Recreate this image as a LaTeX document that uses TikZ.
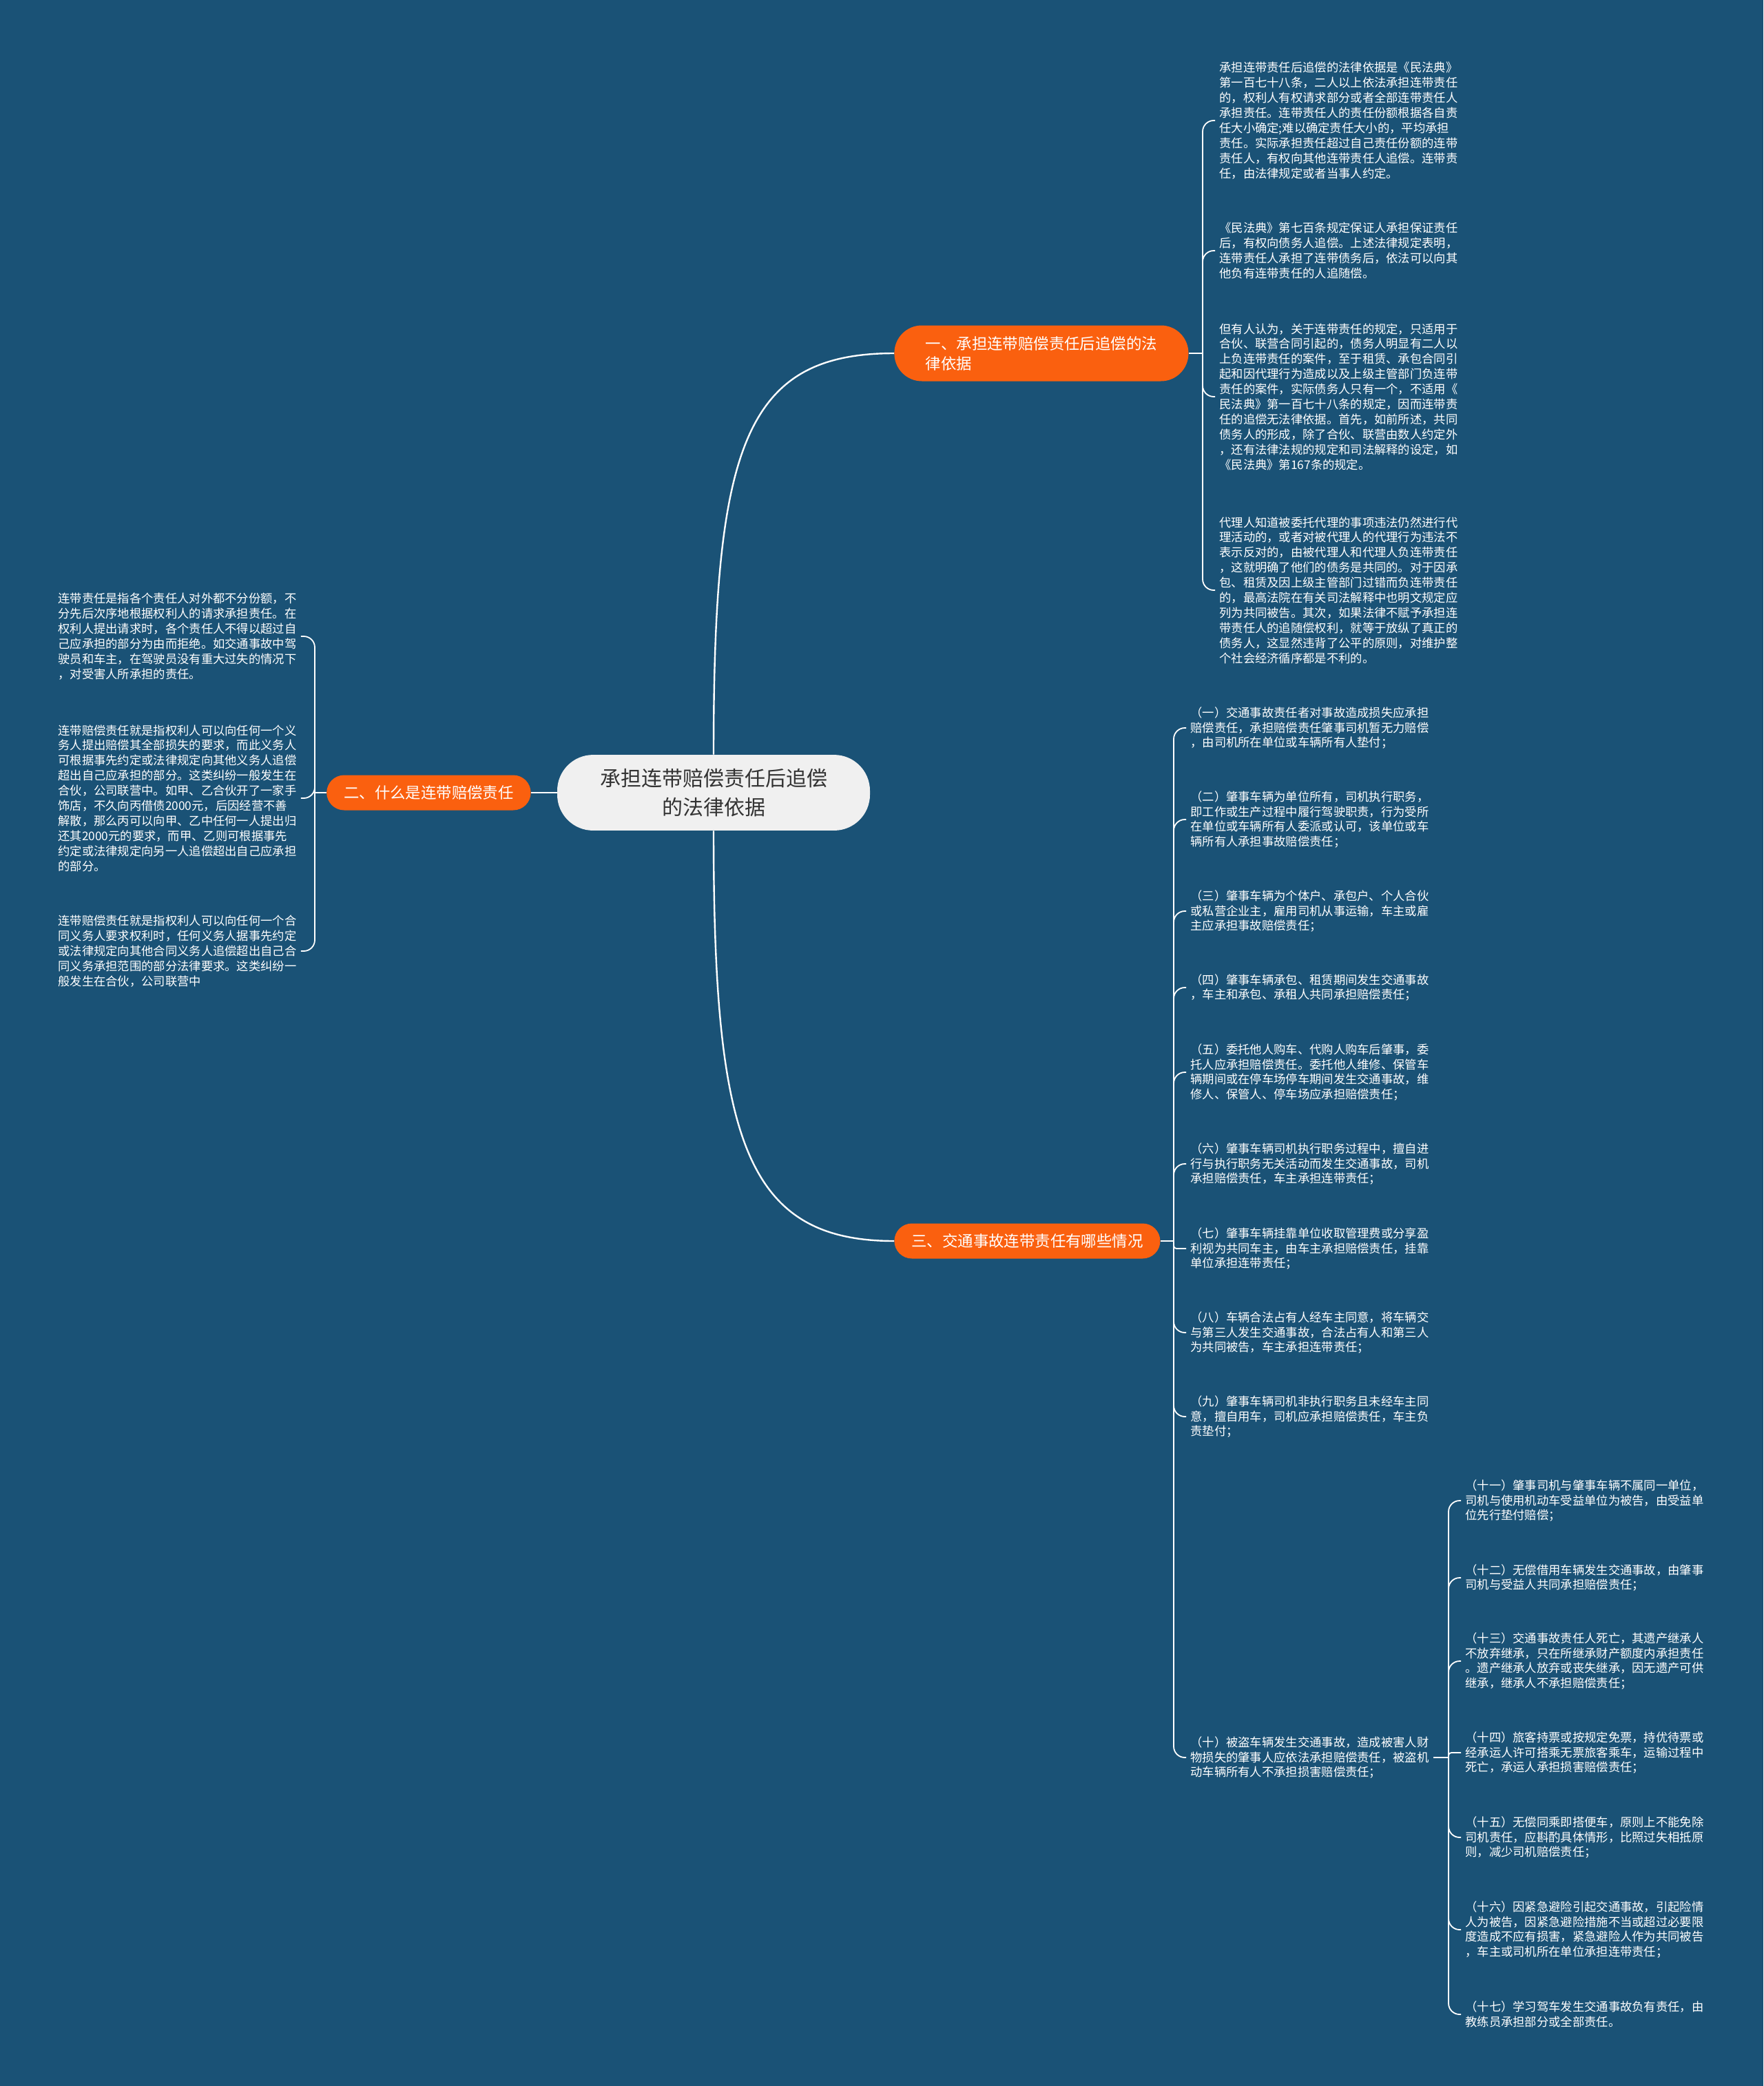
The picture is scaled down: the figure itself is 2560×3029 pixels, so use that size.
\documentclass[tikz,border=0pt]{standalone}
\usepackage{fontspec}
\setmainfont{Noto Sans CJK SC}
\usepackage{tikz}
\usetikzlibrary{positioning}
\definecolor{mapbg}{HTML}{1A5276}
\definecolor{maporange}{HTML}{FA600F}
\definecolor{maproot}{HTML}{F0F0F0}
\definecolor{maptext}{HTML}{333333}

\begin{document}
\begin{tikzpicture}[
    x=0.5pt, y=-0.5pt,
    root_node/.style={rectangle, rounded corners=26pt, fill=maproot, text=maptext, align=center, inner xsep=31pt, inner ysep=10pt, font=\fontsize{15}{21}\selectfont},
    branch_node/.style={rectangle, rounded corners=12.75pt, fill=maporange, text=white, align=left, inner xsep=12.5pt, inner ysep=0pt, minimum height=25.5pt, font=\fontsize{11.2}{14.5}\selectfont},
    leaf_node/.style={align=left, text=white, inner xsep=3pt, inner ysep=0pt, font=\fontsize{8.65}{10.95}\selectfont},
    link/.style={draw=white, line width=1.2pt},
    twig/.style={draw=white, line width=0.9pt, rounded corners=8pt}
]

\fill[mapbg] (0,0) rectangle (2560,3029);
\useasboundingbox (0,0) rectangle (2560,3029);

\node[root_node] (root) at (1036,1151) {承担连带赔偿责任后追偿\\的法律依据};

% Branches
\node[branch_node, anchor=west, minimum width=213.5pt, minimum height=40.5pt, rounded corners=20pt] (basis) at (1298,513) {一、承担连带赔偿责任后追偿的法\\律依据};
\node[branch_node, anchor=east] (meaning) at (771,1151) {二、什么是连带赔偿责任};
\node[branch_node, anchor=west] (traffic) at (1298,1802) {三、交通事故连带责任有哪些情况};

% Basis
\node[leaf_node, anchor=west] (basis1) at (1764,175) {承担连带责任后追偿的法律依据是《民法典》\\第一百七十八条，二人以上依法承担连带责任\\的，权利人有权请求部分或者全部连带责任人\\承担责任。连带责任人的责任份额根据各自责\\任大小确定;难以确定责任大小的，平均承担\\责任。实际承担责任超过自己责任份额的连带\\责任人，有权向其他连带责任人追偿。连带责\\任，由法律规定或者当事人约定。};
\node[leaf_node, anchor=west] (basis2) at (1764,364) {《民法典》第七百条规定保证人承担保证责任\\后，有权向债务人追偿。上述法律规定表明，\\连带责任人承担了连带债务后，依法可以向其\\他负有连带责任的人追随偿。};
\node[leaf_node, anchor=west] (basis3) at (1764,576) {但有人认为，关于连带责任的规定，只适用于\\合伙、联营合同引起的，债务人明显有二人以\\上负连带责任的案件，至于租赁、承包合同引\\起和因代理行为造成以及上级主管部门负连带\\责任的案件，实际债务人只有一个，不适用《\\民法典》第一百七十八条的规定，因而连带责\\任的追偿无法律依据。首先，如前所述，共同\\债务人的形成，除了合伙、联营由数人约定外\\，还有法律法规的规定和司法解释的设定，如\\《民法典》第167条的规定。};
\node[leaf_node, anchor=west] (basis4) at (1764,857) {代理人知道被委托代理的事项违法仍然进行代\\理活动的，或者对被代理人的代理行为违法不\\表示反对的，由被代理人和代理人负连带责任\\，这就明确了他们的债务是共同的。对于因承\\包、租赁及因上级主管部门过错而负连带责任\\的，最高法院在有关司法解释中也明文规定应\\列为共同被告。其次，如果法律不赋予承担连\\带责任人的追随偿权利，就等于放纵了真正的\\债务人，这显然违背了公平的原则，对维护整\\个社会经济循序都是不利的。};

% Meaning
\node[leaf_node, anchor=west] (meaning1) at (78,924) {连带责任是指各个责任人对外都不分份额，不\\分先后次序地根据权利人的请求承担责任。在\\权利人提出请求时，各个责任人不得以超过自\\己应承担的部分为由而拒绝。如交通事故中驾\\驶员和车主，在驾驶员没有重大过失的情况下\\，对受害人所承担的责任。};
\node[leaf_node, anchor=west] (meaning2) at (78,1159) {连带赔偿责任就是指权利人可以向任何一个义\\务人提出赔偿其全部损失的要求，而此义务人\\可根据事先约定或法律规定向其他义务人追偿\\超出自己应承担的部分。这类纠纷一般发生在\\合伙，公司联营中。如甲、乙合伙开了一家手\\饰店，不久向丙借债2000元，后因经营不善\\解散，那么丙可以向甲、乙中任何一人提出归\\还其2000元的要求，而甲、乙则可根据事先\\约定或法律规定向另一人追偿超出自己应承担\\的部分。};
\node[leaf_node, anchor=west] (meaning3) at (78,1381) {连带赔偿责任就是指权利人可以向任何一个合\\同义务人要求权利时，任何义务人据事先约定\\或法律规定向其他合同义务人追偿超出自己合\\同义务承担范围的部分法律要求。这类纠纷一\\般发生在合伙，公司联营中};

% Traffic cases
\node[leaf_node, anchor=west] (case1) at (1722,1057) {（一）交通事故责任者对事故造成损失应承担\\赔偿责任，承担赔偿责任肇事司机暂无力赔偿\\，由司机所在单位或车辆所有人垫付；};
\node[leaf_node, anchor=west] (case2) at (1722,1190) {（二）肇事车辆为单位所有，司机执行职务，\\即工作或生产过程中履行驾驶职责，行为受所\\在单位或车辆所有人委派或认可，该单位或车\\辆所有人承担事故赔偿责任；};
\node[leaf_node, anchor=west] (case3) at (1722,1323) {（三）肇事车辆为个体户、承包户、个人合伙\\或私营企业主，雇用司机从事运输，车主或雇\\主应承担事故赔偿责任；};
\node[leaf_node, anchor=west] (case4) at (1722,1434) {（四）肇事车辆承包、租赁期间发生交通事故\\，车主和承包、承租人共同承担赔偿责任；};
\node[leaf_node, anchor=west] (case5) at (1722,1557) {（五）委托他人购车、代购人购车后肇事，委\\托人应承担赔偿责任。委托他人维修、保管车\\辆期间或在停车场停车期间发生交通事故，维\\修人、保管人、停车场应承担赔偿责任；};
\node[leaf_node, anchor=west] (case6) at (1722,1690) {（六）肇事车辆司机执行职务过程中，擅自进\\行与执行职务无关活动而发生交通事故，司机\\承担赔偿责任，车主承担连带责任；};
\node[leaf_node, anchor=west] (case7) at (1722,1813) {（七）肇事车辆挂靠单位收取管理费或分享盈\\利视为共同车主，由车主承担赔偿责任，挂靠\\单位承担连带责任；};
\node[leaf_node, anchor=west] (case8) at (1722,1935) {（八）车辆合法占有人经车主同意，将车辆交\\与第三人发生交通事故，合法占有人和第三人\\为共同被告，车主承担连带责任；};
\node[leaf_node, anchor=west] (case9) at (1722,2057) {（九）肇事车辆司机非执行职务且未经车主同\\意，擅自用车，司机应承担赔偿责任，车主负\\责垫付；};
\node[leaf_node, anchor=west] (case10) at (1722,2552) {（十）被盗车辆发生交通事故，造成被害人财\\物损失的肇事人应依法承担赔偿责任，被盗机\\动车辆所有人不承担损害赔偿责任；};

% Further cases
\node[leaf_node, anchor=west] (case11) at (2121,2179) {（十一）肇事司机与肇事车辆不属同一单位，\\司机与使用机动车受益单位为被告，由受益单\\位先行垫付赔偿；};
\node[leaf_node, anchor=west] (case12) at (2121,2291) {（十二）无偿借用车辆发生交通事故，由肇事\\司机与受益人共同承担赔偿责任；};
\node[leaf_node, anchor=west] (case13) at (2121,2412) {（十三）交通事故责任人死亡，其遗产继承人\\不放弃继承，只在所继承财产额度内承担责任\\。遗产继承人放弃或丧失继承，因无遗产可供\\继承，继承人不承担赔偿责任；};
\node[leaf_node, anchor=west] (case14) at (2121,2545) {（十四）旅客持票或按规定免票，持优待票或\\经承运人许可搭乘无票旅客乘车，运输过程中\\死亡，承运人承担损害赔偿责任；};
\node[leaf_node, anchor=west] (case15) at (2121,2668) {（十五）无偿同乘即搭便车，原则上不能免除\\司机责任，应斟酌具体情形，比照过失相抵原\\则，减少司机赔偿责任；};
\node[leaf_node, anchor=west] (case16) at (2121,2802) {（十六）因紧急避险引起交通事故，引起险情\\人为被告，因紧急避险措施不当或超过必要限\\度造成不应有损害，紧急避险人作为共同被告\\，车主或司机所在单位承担连带责任；};
\node[leaf_node, anchor=west] (case17) at (2121,2925) {（十七）学习驾车发生交通事故负有责任，由\\教练员承担部分或全部责任。};

% Forks
\coordinate (basis_fork) at (1746,513);
\coordinate (meaning_fork) at (457,1151);
\coordinate (traffic_fork) at (1704,1802);
\coordinate (theft_fork) at (2103,2552);

% Connections
\draw[link] (root.north) .. controls (1036,650) and (1080,513) .. (basis.west);
\draw[link] (root.south) .. controls (1036,1650) and (1080,1802) .. (traffic.west);
\draw[link] (root.west) -- (meaning.east);

\draw[link] (basis.east) -- (basis_fork);
\draw[link] (meaning.west) -- (meaning_fork);
\draw[link] (traffic.east) -- (traffic_fork);
\draw[link] (case10.east) -- (theft_fork);

\foreach \leaf in {basis1,basis2,basis3,basis4}
    \draw[twig] (basis_fork) |- (\leaf.west);
\foreach \leaf in {meaning1,meaning2,meaning3}
    \draw[twig] (meaning_fork) |- (\leaf.east);
\foreach \leaf in {case1,case2,case3,case4,case5,case6,case8,case9,case10}
    \draw[twig] (traffic_fork) |- (\leaf.west);
\draw[twig, rounded corners=2pt] (traffic_fork) |- (case7.west);
\foreach \leaf in {case11,case12,case13,case15,case16,case17}
    \draw[twig] (theft_fork) |- (\leaf.west);
\draw[twig, rounded corners=2pt] (theft_fork) |- (case14.west);

\end{tikzpicture}
\end{document}
